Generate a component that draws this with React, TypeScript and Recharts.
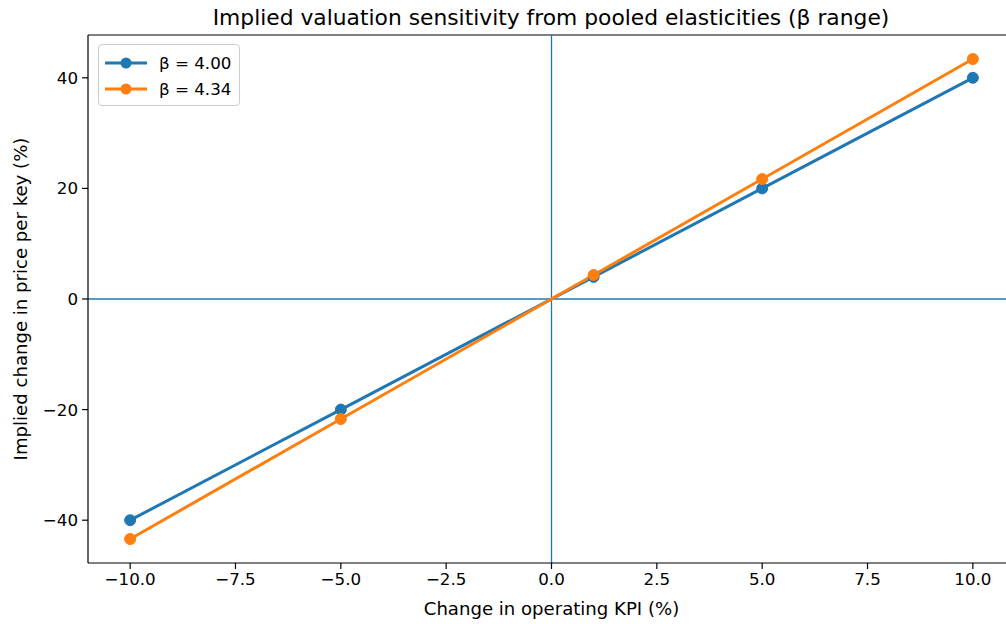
import React from "react";
import { LineChart, Line, XAxis, YAxis, ReferenceLine } from "recharts";

const kpiChange = [-10, -5, 1, 5, 10];
const beta400 = [-40, -20, 4, 20, 40];
const beta434 = [-43.4, -21.7, 4.34, 21.7, 43.4];
const xTicks = [-10, -7.5, -5, -2.5, 0, 2.5, 5, 7.5, 10];
const yTicks = [-40, -20, 0, 20, 40];
const seriesNames = ["β = 4.00", "β = 4.34"];
const seriesColors = ["#1f77b4", "#ff7f0e"];

const data = kpiChange.map((x, i) => ({ x, a: beta400[i], b: beta434[i] }));

const X_DOMAIN: [number, number] = [-11, 11];
const Y_MAX = 43.4 * 1.1;
const Y_DOMAIN: [number, number] = [-Y_MAX, Y_MAX];

const FONT = "DejaVu Sans, sans-serif";
const LABEL_SIZE = 18.1;
const fmt = (v: number, d: number) => (v < 0 ? "\u2212" : "") + Math.abs(v).toFixed(d);

const LegendBox = () => (
  <div
    style={{
      position: "absolute",
      left: 98,
      top: 44,
      border: "1px solid #cccccc",
      borderRadius: 4,
      background: "rgba(255,255,255,0.8)",
      padding: "5px 8px 3px 6px",
      fontFamily: FONT,
      fontSize: 16.7,
      color: "#000",
    }}
  >
    {seriesNames.map((name, i) => (
      <div key={i} style={{ display: "flex", alignItems: "center", height: 26 }}>
        <svg width={42} height={14} style={{ marginRight: 12 }}>
          <line x1={0} y1={7} x2={42} y2={7} stroke={seriesColors[i]} strokeWidth={3} />
          <circle cx={21} cy={7} r={5.5} fill={seriesColors[i]} />
        </svg>
        <span>{name}</span>
      </div>
    ))}
  </div>
);

export default function App() {
  return (
    <div style={{ position: "absolute", left: 0, top: 0, width: 1006, height: 624, overflow: "hidden", background: "#fff" }}>
      <div
        style={{
          position: "absolute",
          top: 5,
          left: 0,
          width: 1006,
          textAlign: "center",
          fontFamily: FONT,
          fontSize: 21.8,
          color: "#000",
          paddingLeft: 96,
          boxSizing: "border-box",
          whiteSpace: "nowrap",
        }}
      >
        Implied valuation sensitivity from pooled elasticities (β range)
      </div>
      <LineChart
        width={1016}
        height={624}
        data={data}
        margin={{ top: 35, right: 1, bottom: 31, left: 0 }}
        style={{ position: "absolute", left: 0, top: 0 }}
      >
        <XAxis
          dataKey="x"
          type="number"
          domain={X_DOMAIN}
          ticks={xTicks}
          tickFormatter={(v: number) => fmt(v, 1)}
          allowDataOverflow
          height={30}
          tickSize={6}
          tickMargin={4}
          stroke="#000"
          tick={{ fill: "#000", fontFamily: FONT, fontSize: 16.7 }}
          axisLine={{ stroke: "#000", strokeWidth: 1.2 }}
          tickLine={{ stroke: "#000", strokeWidth: 1.2 }}
          label={{
            content: (p: any) => {
              const vb = p.viewBox;
              return (
                <text
                  x={vb.x + vb.width / 2}
                  y={vb.y + 45}
                  textAnchor="middle"
                  dominantBaseline="central"
                  fontFamily={FONT}
                  fontSize={LABEL_SIZE}
                  fill="#000"
                >
                  Change in operating KPI (%)
                </text>
              );
            },
          }}
        />
        <YAxis
          type="number"
          domain={Y_DOMAIN}
          ticks={yTicks}
          tickFormatter={(v: number) => fmt(v, 0)}
          allowDataOverflow
          width={88}
          tickSize={6}
          tickMargin={4}
          stroke="#000"
          tick={{ fill: "#000", fontFamily: FONT, fontSize: 16.7 }}
          axisLine={{ stroke: "#000", strokeWidth: 1.2 }}
          tickLine={{ stroke: "#000", strokeWidth: 1.2 }}
          label={{
            content: (p: any) => {
              const vb = p.viewBox;
              const cx = 20;
              const cy = vb.y + vb.height / 2;
              return (
                <text
                  x={cx}
                  y={cy}
                  transform={`rotate(-90 ${cx} ${cy})`}
                  textAnchor="middle"
                  dominantBaseline="central"
                  fontFamily={FONT}
                  fontSize={LABEL_SIZE}
                  fill="#000"
                >
                  Implied change in price per key (%)
                </text>
              );
            },
          }}
        />
        <ReferenceLine y={Y_MAX} stroke="#000" strokeWidth={1.2} ifOverflow="visible" />
        <ReferenceLine x={0} stroke="#1f77b4" strokeWidth={1.3} />
        <ReferenceLine y={0} stroke="#1f77b4" strokeWidth={1.3} />
        <Line
          dataKey="a"
          name={seriesNames[0]}
          stroke={seriesColors[0]}
          strokeWidth={3}
          dot={{ r: 5.5, fill: seriesColors[0], stroke: seriesColors[0], strokeWidth: 1 }}
          activeDot={false}
          isAnimationActive={false}
        />
        <Line
          dataKey="b"
          name={seriesNames[1]}
          stroke={seriesColors[1]}
          strokeWidth={3}
          dot={{ r: 5.5, fill: seriesColors[1], stroke: seriesColors[1], strokeWidth: 1 }}
          activeDot={false}
          isAnimationActive={false}
        />
      </LineChart>
      <LegendBox />
    </div>
  );
}
